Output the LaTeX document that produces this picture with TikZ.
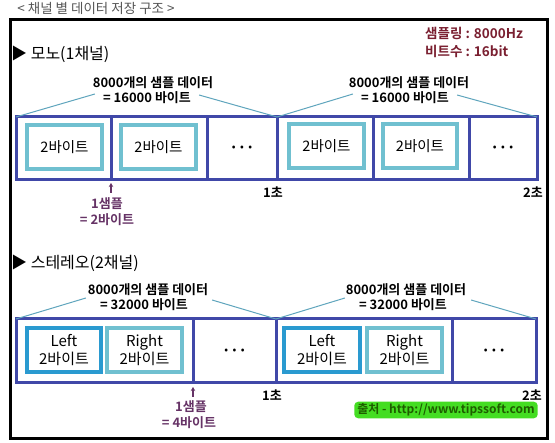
\documentclass[tikz,border=0pt]{standalone}
\usepackage{fontspec}
\setmainfont{Noto Sans CJK KR}[BoldFont={Noto Sans CJK KR Bold}]
\usetikzlibrary{arrows.meta}
\definecolor{cellblue}{HTML}{4048A8}
\definecolor{cyanbox}{HTML}{70C0D0}
\definecolor{leftbox}{HTML}{2A9AD0}
\definecolor{connline}{HTML}{5FA5BD}
\definecolor{maroon}{HTML}{7A1F30}
\definecolor{smplpurple}{HTML}{663366}
\definecolor{titlegray}{HTML}{555555}
\definecolor{srcfill}{HTML}{44DD22}
\definecolor{srctext}{HTML}{1E5E00}
\tikzset{
  cell/.style={draw=cellblue, line width=3pt, minimum height=63pt, inner sep=0pt, outer sep=0pt, anchor=north west},
  scell/.style={cell, minimum height=64pt},
  inbox/.style={draw=cyanbox, line width=3.5pt, minimum height=44pt, inner sep=0pt, outer sep=0pt, align=center, font=\fontsize{14.5}{18}\selectfont},
  lbox/.style={inbox, draw=leftbox},
  lab/.style={inner sep=0pt, font=\fontsize{13}{13}\selectfont\bfseries},
  conn/.style={draw=connline, line width=1pt},
  heading/.style={inner sep=0pt, anchor=west, font=\fontsize{16}{16}\selectfont},
  sec/.style={inner sep=0pt, font=\fontsize{13}{13}\selectfont\bfseries},
  smpl/.style={inner sep=0pt, text=smplpurple, font=\fontsize{13}{13}\selectfont\bfseries},
  uparr/.style={draw=smplpurple, line width=1.2pt, -{Stealth[length=4pt,width=4.5pt]}},
  dots/.style={inner sep=0pt, font=\fontsize{10}{10}\selectfont\bfseries},
  info/.style={inner sep=0pt, anchor=west, text=maroon, font=\fontsize{13.5}{13.5}\selectfont\bfseries},
}
\newcommand{\mydots}{•\hspace{4.5pt}•\hspace{4.5pt}•}
\begin{document}
\begin{tikzpicture}[x=1pt, y=-1pt]
\useasboundingbox (0,0) rectangle (555,443);
\fill[white] (0,0) rectangle (555,443);
% frame
\node[draw=black, line width=2.6pt, minimum width=537pt, minimum height=419pt, inner sep=0pt, anchor=north west] (frame) at (9,18) {};
\node[inner sep=0pt, text=titlegray, font=\fontsize{13.5}{13.5}\selectfont] (title) at (96,8) {< 채널 별 데이터 저장 구조 >};
\node[info] (rate) at (425,33) {샘플링 : 8000Hz};
\node[info] (bits) at (425,51) {비트수 : 16bit};

% ---------- mono ----------
\node[heading] (monoh) at (11,54) {▶ 모노(1채널)};
\node[cell, minimum width=95pt] (m1) at (16,117) {};
\node[cell, minimum width=96pt] (m2) at (111,117) {};
\node[cell, minimum width=70pt] (m3) at (207,117) {};
\node[cell, minimum width=96pt] (m4) at (277,117) {};
\node[cell, minimum width=96pt] (m5) at (373,117) {};
\node[cell, minimum width=68pt] (m6) at (469,117) {};
\node[inbox, minimum width=75pt] (mi1) at (64.5,147) {2바이트};
\node[inbox, minimum width=75pt] (mi2) at (158.5,147) {2바이트};
\node[inbox, minimum width=75pt] (mi4) at (326.5,146) {2바이트};
\node[inbox, minimum width=74pt] (mi5) at (420,146) {2바이트};
\node[dots] (md1) at (m3.center) {\mydots};
\node[dots] (md2) at (m6.center) {\mydots};

\node[lab] (ml1a) at (153,83) {8000개의 샘플 데이터};
\node[lab] (ml1b) at (147,98) {= 16000 바이트};
\node[lab] (ml2a) at (409,83) {8000개의 샘플 데이터};
\node[lab] (ml2b) at (405,98) {= 16000 바이트};
\draw[conn] (m1.north west) -- ([xshift=-8pt,yshift=4pt]ml1b.west);
\draw[conn] ([xshift=8pt,yshift=3pt]ml1b.east) -- (m3.north east);
\draw[conn] (m4.north west) -- ([xshift=-8pt,yshift=4pt]ml2b.west);
\draw[conn] ([xshift=8pt,yshift=3pt]ml2b.east) -- (m6.north east);

\coordinate (ma0) at (111,193);
\coordinate (ma1) at (111,183);
\draw[uparr] (ma0) -- (ma1);
\node[smpl] (ms1) at (107,204) {1샘플};
\node[smpl] (ms2) at (107,220) {= 2바이트};
\node[sec] (msec1) at (273,192) {1초};
\node[sec] (msec2) at (533,192) {2초};

% ---------- stereo ----------
\node[heading] (stereoh) at (11,263) {▶ 스테레오(2채널)};
\node[scell, minimum width=177pt] (s1) at (16,319) {};
\node[scell, minimum width=83pt] (s2) at (193,319) {};
\node[scell, minimum width=176pt] (s3) at (276,319) {};
\node[scell, minimum width=84pt] (s4) at (452,319) {};
\node[lbox, minimum width=74pt, font=\fontsize{15}{18}\selectfont] (l1) at (64,350) {Left\\2바이트};
\node[inbox, minimum width=75pt, font=\fontsize{15}{18}\selectfont] (r1) at (144.5,350) {Right\\2바이트};
\node[lbox, minimum width=76pt, font=\fontsize{15}{18}\selectfont] (l2) at (322,350) {Left\\2바이트};
\node[inbox, minimum width=75pt, font=\fontsize{15}{18}\selectfont] (r2) at (404.5,350) {Right\\2바이트};
\node[dots] (sd1) at (s2.center) {\mydots};
\node[dots] (sd2) at (s4.center) {\mydots};

\node[lab] (sl1a) at (148,290) {8000개의 샘플 데이터};
\node[lab] (sl1b) at (144,305) {= 32000 바이트};
\node[lab] (sl2a) at (406,290) {8000개의 샘플 데이터};
\node[lab] (sl2b) at (403,305) {= 32000 바이트};
\draw[conn] (s1.north west) -- ([xshift=-14pt,yshift=7pt]sl1b.west);
\draw[conn] ([xshift=24pt,yshift=5pt]sl1b.east) -- (s2.north east);
\draw[conn] (s3.north west) -- ([xshift=-14pt,yshift=7pt]sl2b.west);
\draw[conn] ([xshift=24pt,yshift=5pt]sl2b.east) -- (s4.north east);

\coordinate (sa0) at (193,397);
\coordinate (sa1) at (193,387);
\draw[uparr] (sa0) -- (sa1);
\node[smpl] (ss1) at (191,407) {1샘플};
\node[smpl] (ss2) at (189,423) {= 4바이트};
\node[sec] (ssec1) at (272,395) {1초};
\node[sec] (ssec2) at (532,395) {2초};

\node[fill=srcfill, rounded corners=4pt, inner xsep=3pt, inner ysep=2pt, text=srctext, font=\fontsize{12}{12}\selectfont\bfseries] (src) at (446,410) {출처 - http://www.tipssoft.com};
\end{tikzpicture}
\end{document}
